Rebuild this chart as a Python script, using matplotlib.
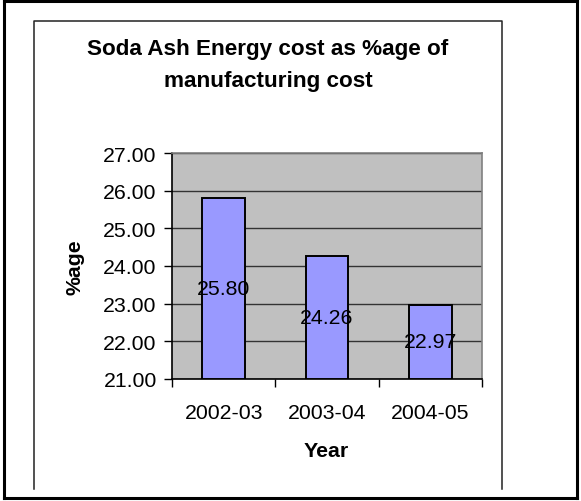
import matplotlib
matplotlib.use("Agg")
import matplotlib.pyplot as plt
from matplotlib.lines import Line2D
import numpy as np

plt.rcParams['font.family'] = ['Liberation Sans', 'DejaVu Sans']

years = ["2002-03", "2003-04", "2004-05"]
energy_share = [25.80, 24.26, 22.97]
y_ticks = [21, 22, 23, 24, 25, 26, 27]

W, H = 581, 502
fig = plt.figure(figsize=(W / 100, H / 100), dpi=100)
fig.patch.set_facecolor("white")


def fx(px):
    return px / W


def fy(py):
    return 1 - py / H


# outer frame
for xs, ys in [((4, 577), (1.5, 1.5)), ((577, 577), (1.5, 499)),
               ((577, 4), (499, 499)), ((4, 4), (499, 1.5))]:
    fig.add_artist(Line2D([fx(x) for x in xs], [fy(y) for y in ys],
                          color="black", lw=2.2, transform=fig.transFigure))

# chart area frame (open at the bottom)
fig.add_artist(Line2D([fx(34), fx(34), fx(502), fx(502)],
                      [fy(490), fy(22), fy(22), fy(490)],
                      color="#222222", lw=1.1, transform=fig.transFigure))

ax = fig.add_axes([fx(172), fy(380), fx(482) - fx(172), fy(154) - fy(380)])
ax.set_facecolor("#C0C0C0")

x = np.arange(len(years))
bars = ax.bar(x, [v - 21 for v in energy_share], bottom=21, width=0.41,
              color="#9999FF", edgecolor="black", linewidth=1.4, zorder=3)

for xi, v in zip(x, energy_share):
    ax.text(xi, (v + 21) / 2, f"{v:.2f}", ha="center", va="center",
            fontsize=15.3, color="black", zorder=4)

ax.set_xlim(-0.5, len(years) - 0.5)
ax.set_ylim(21, 27)
ax.set_yticks(y_ticks)
ax.set_yticklabels([f"{t:.2f}" for t in y_ticks], fontsize=15.3)
ax.yaxis.grid(True, color="#333333", linewidth=1.0, zorder=1)
ax.set_axisbelow(True)

ax.set_xticks(x)
ax.set_xticklabels(years, fontsize=15.3)
ax.tick_params(axis="x", length=0, pad=17)
ax.set_xticks(np.arange(-0.5, len(years)), minor=True)
ax.tick_params(axis="x", which="minor", length=6, width=1, direction="out")
ax.tick_params(axis="y", length=6, width=1, direction="out", pad=5)

for side in ["left", "bottom"]:
    ax.spines[side].set_color("black")
    ax.spines[side].set_linewidth(1.2)
for side in ["top", "right"]:
    ax.spines[side].set_color("#808080")
    ax.spines[side].set_linewidth(1.2)

fig.text(fx(268), fy(50), "Soda Ash Energy cost as %age of", ha="center",
         va="center", fontsize=16.2, fontweight="bold")
fig.text(fx(268), fy(82), "manufacturing cost", ha="center",
         va="center", fontsize=16.2, fontweight="bold")

fig.text(fx(75), fy(267), "%age", ha="center", va="center", rotation=90,
         fontsize=15.3, fontweight="bold")
fig.text(fx(326), fy(452), "Year", ha="center", va="center",
         fontsize=15.3, fontweight="bold")

fig.savefig("out.png", dpi=100)
